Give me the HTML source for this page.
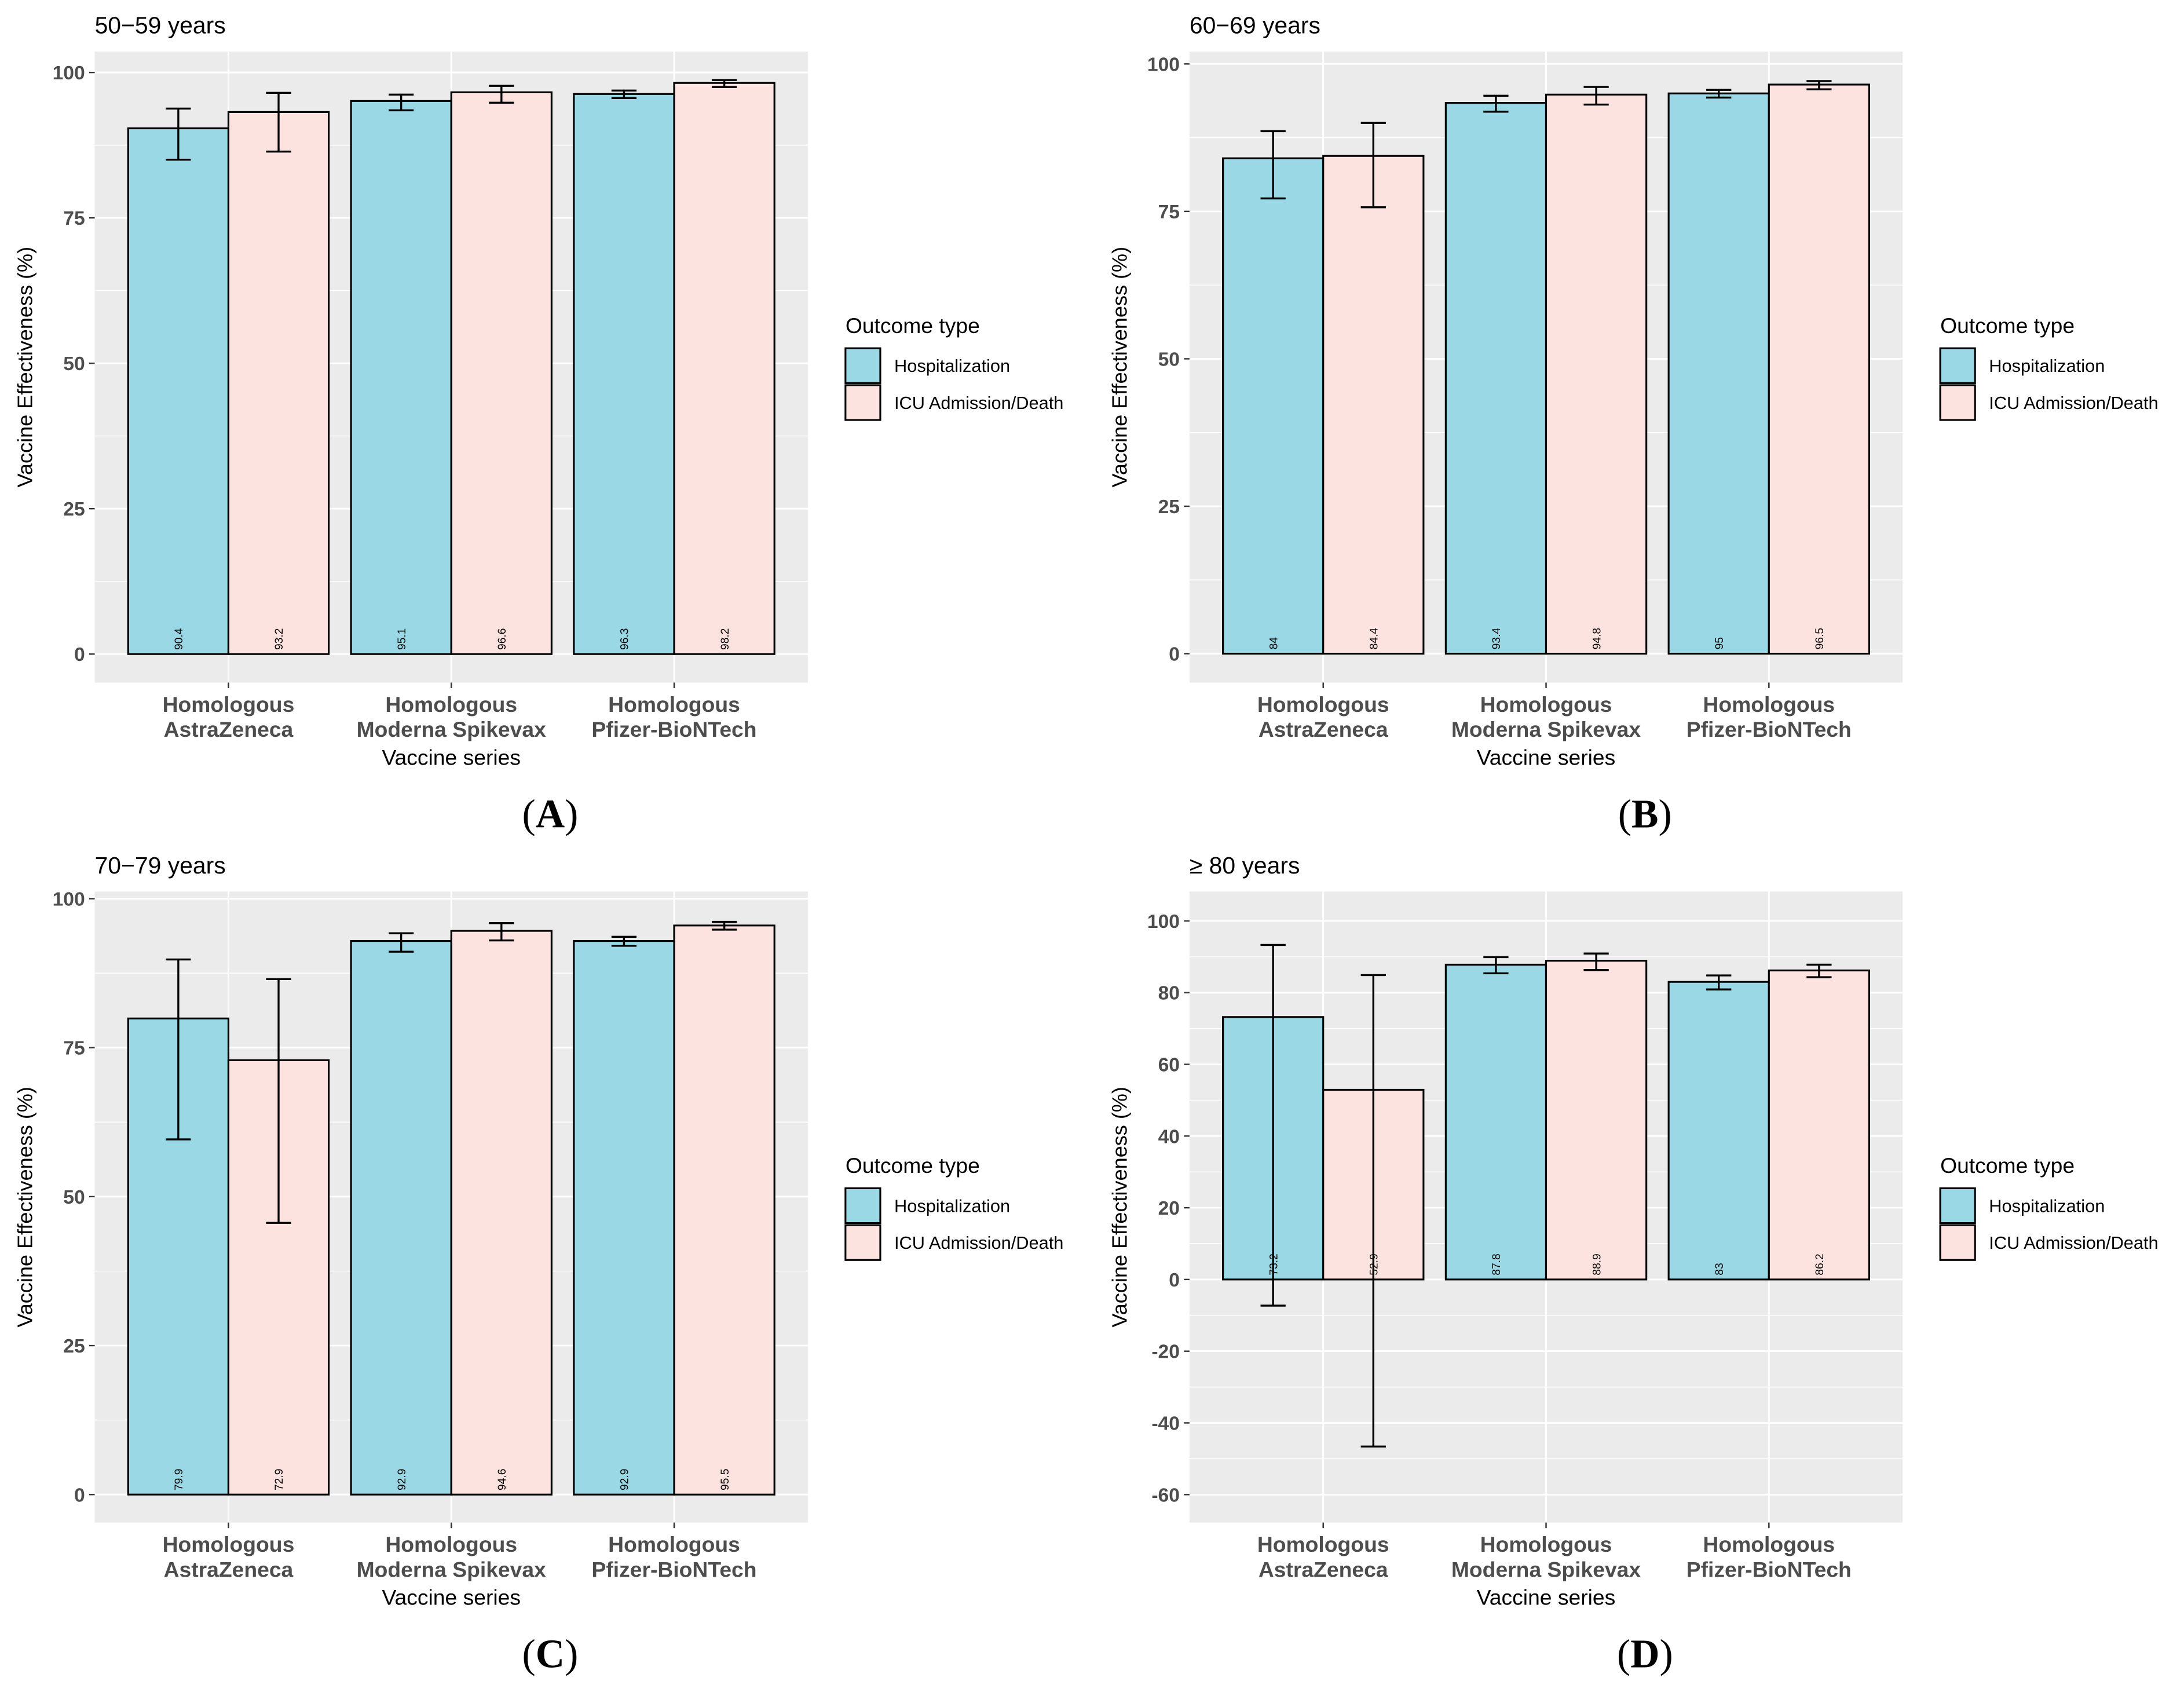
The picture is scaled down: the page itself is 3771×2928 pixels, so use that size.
<!DOCTYPE html>
<html><head><meta charset="utf-8"><style>
html,body{margin:0;padding:0;background:#fff}
svg{display:block}
text{font-family:"Liberation Sans",sans-serif}
</style></head><body>
<svg id="fig" xmlns="http://www.w3.org/2000/svg" width="3771" height="2928" viewBox="0 0 1568 1217.5"></svg>
<script>
const groups = [["Homologous","AstraZeneca"],["Homologous","Moderna Spikevax"],["Homologous","Pfizer-BioNTech"]];
const seriesNames = ["Hospitalization","ICU Admission/Death"];
const panelTitles = ["50\u221259 years","60\u221269 years","70\u221279 years","\u2265 80 years"];
const panelLetters = ["A","B","C","D"];
const hospVals = [[90.4,95.1,96.3],[84,93.4,95],[79.9,92.9,92.9],[73.2,87.8,83]];
const hospLo   = [[85,93.5,95.6],[77.2,91.9,94.3],[59.6,91.1,92.1],[-7.3,85.4,80.9]];
const hospHi   = [[93.8,96.2,96.9],[88.6,94.6,95.6],[89.8,94.2,93.6],[93.3,89.9,84.8]];
const icuVals  = [[93.2,96.6,98.2],[84.4,94.8,96.5],[72.9,94.6,95.5],[52.9,88.9,86.2]];
const icuLo    = [[86.4,94.8,97.5],[75.7,93.1,95.7],[45.6,93,94.8],[-46.6,86.3,84.3]];
const icuHi    = [[96.5,97.7,98.7],[90,96.1,97.1],[86.5,95.9,96.1],[84.9,90.9,87.8]];
const yDomains = [[-4.9,103.6],[-4.9,102.1],[-4.7,101.2],[-67.8,108.2]];
const yTicks = [[0,25,50,75,100],[0,25,50,75,100],[0,25,50,75,100],[-60,-40,-20,0,20,40,60,80,100]];

const NS="http://www.w3.org/2000/svg";
const svg=document.getElementById('fig');
function mk(tag,attrs,parent,txt){const e=document.createElementNS(NS,tag);for(const k in attrs)e.setAttribute(k,attrs[k]);if(txt!==undefined)e.textContent=txt;(parent||svg).appendChild(e);return e;}
const fills=["#99d8e4","#fde3e0"];
const offsets=[[0,0],[786,0],[0,603],[786,603]];
for(let p=0;p<4;p++){
  const ox=offsets[p][0], oy=offsets[p][1];
  const g=mk('g',{});
  
  
  const L=68+ox,R=580+ox,T=37+oy,B=490+oy;
  const [d0,d1]=yDomains[p];
  const y=v=>B-(v-d0)/(d1-d0)*(B-T);
  const xs=i=>L+(0.6+i)*(R-L)/3.2;
  const bw=0.45*(R-L)/3.2;
  const t=mk('text',{x:L,y:24+oy,'font-size':17,fill:'#000'},g,panelTitles[p]);
  
  const bg=mk('rect',{x:L,y:T,width:R-L,height:B-T,fill:'#ebebeb'},g);
  
  const tk=yTicks[p];const step=tk[1]-tk[0];
  for(let v=tk[0]-step/2; v<=d1; v+=step){ if(v>d0&&v<d1) mk('line',{x1:L,x2:R,y1:y(v),y2:y(v),stroke:'#fff','stroke-width':0.6},g);}
  tk.forEach(v=>{
    mk('line',{x1:L,x2:R,y1:y(v),y2:y(v),stroke:'#fff','stroke-width':1.2},g);
    mk('line',{x1:L-4,x2:L,y1:y(v),y2:y(v),stroke:'#333','stroke-width':1},g);
    const lb=mk('text',{x:L-7,y:y(v)+5,'font-size':14,'font-weight':'bold',fill:'#4d4d4d','text-anchor':'end'},g,String(v));
    
  });
  groups.forEach((gr,i)=>{
    const cx=xs(i);
    mk('line',{x1:cx,x2:cx,y1:T,y2:B,stroke:'#fff','stroke-width':1.2},g);
    mk('line',{x1:cx,x2:cx,y1:B,y2:B+4,stroke:'#333','stroke-width':1},g);
    const l1=mk('text',{x:cx,y:511+oy,'font-size':15.5,'font-weight':'bold',fill:'#4d4d4d','text-anchor':'middle'},g,gr[0]);
    
    const l2=mk('text',{x:cx,y:529+oy,'font-size':15.5,'font-weight':'bold',fill:'#4d4d4d','text-anchor':'middle'},g,gr[1]);
    
  });
  const sets=[[hospVals,hospLo,hospHi],[icuVals,icuLo,icuHi]];
  groups.forEach((gr,i)=>{
    sets.forEach((s,k)=>{
      const v=s[0][p][i],lo=s[1][p][i],hi=s[2][p][i];
      const x0=xs(i)-bw+k*bw, bc=x0+bw/2;
      const top=Math.min(y(v),y(0)),h=Math.abs(y(v)-y(0));
      const r=mk('rect',{x:x0,y:top,width:bw,height:h,fill:fills[k],stroke:'#000','stroke-width':1.3},g);
      
      
      const tx=mk('text',{x:0,y:0,'font-size':8,fill:'#000',transform:`translate(${bc+3},${y(0)-3}) rotate(-90)`},g,String(v));
      
      const eb=mk('g',{stroke:'#000','stroke-width':1.4},g);
      
      mk('line',{x1:bc,x2:bc,y1:y(lo),y2:y(hi)},eb);
      mk('line',{x1:bc-9,x2:bc+9,y1:y(lo),y2:y(lo)},eb);
      mk('line',{x1:bc-9,x2:bc+9,y1:y(hi),y2:y(hi)},eb);
    });
  });
  const xt=mk('text',{x:(L+R)/2,y:549+oy,'font-size':15.5,fill:'#000','text-anchor':'middle'},g,'Vaccine series');
  
  const yt=mk('text',{x:0,y:0,'font-size':15,fill:'#000','text-anchor':'middle',transform:`translate(${23+ox},${(T+B)/2}) rotate(-90)`},g,'Vaccine Effectiveness (%)');
  
  const lg=mk('g',{},g);
  
  const lx=607+ox;
  mk('text',{x:lx,y:239+oy,'font-size':15.5,fill:'#000'},lg,'Outcome type');
  seriesNames.forEach((n,k)=>{
    const kb=mk('rect',{x:lx,y:250+oy+k*26.5,width:25,height:25,fill:fills[k],stroke:'#000','stroke-width':1.3},lg);
    
    const lt=mk('text',{x:lx+35,y:267+oy+k*26.5,'font-size':12.8,fill:'#000'},lg,n);
    
  });
  const pl=mk('text',{x:395+ox,y:594+oy,'font-size':29,style:'font-family:"Liberation Serif",serif',fill:'#000','text-anchor':'middle'},g);
  mk('tspan',{},pl,'(');
  mk('tspan',{'font-weight':'bold'},pl,panelLetters[p]);
  mk('tspan',{},pl,')');
  
}
</script>
</body></html>
